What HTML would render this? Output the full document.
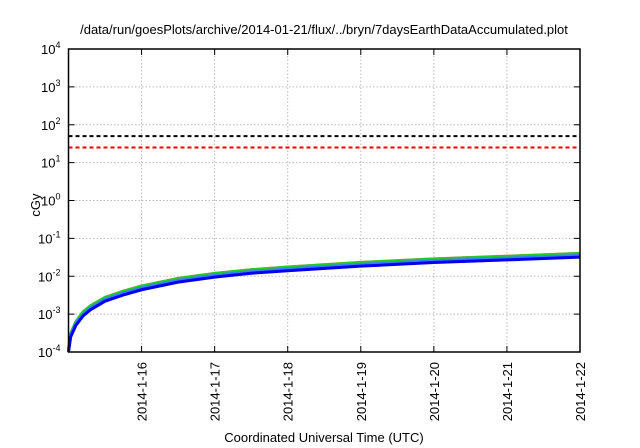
<!DOCTYPE html>
<html><head><meta charset="utf-8"><style>
body{margin:0;background:#fff;}
svg{display:block;font-family:"Liberation Sans",sans-serif;}
</style></head><body>
<svg id="chart" width="640" height="448">
<text x="324" y="34" font-size="13" text-anchor="middle">/data/run/goesPlots/archive/2014-01-21/flux/../bryn/7daysEarthDataAccumulated.plot</text>
<text x="40" y="205" font-size="13" text-anchor="middle" transform="rotate(-90 40 205)">cGy</text>
<text x="324" y="442" font-size="13" text-anchor="middle">Coordinated Universal Time (UTC)</text>
<g id="grid"></g><g id="series"></g><g id="axes"></g>
</svg>
<script>
const xTickLabels=["2014-1-16","2014-1-17","2014-1-18","2014-1-19","2014-1-20","2014-1-21","2014-1-22"];
const xTickDays=[1,2,3,4,5,6,7];
const yTickExps=[-4,-3,-2,-1,0,1,2,3,4];
const days=[0,0.03,0.1,0.2,0.3,0.5,0.75,1,1.5,2,2.5,3,4,5,6,7];
const blue=[1e-4,2.5e-4,5e-4,9e-4,1.3e-3,2.2e-3,3.2e-3,4.4e-3,7e-3,9.5e-3,1.2e-2,1.4e-2,1.85e-2,2.3e-2,2.7e-2,3.2e-2];
const lightBlue=[1.1e-4,2.8e-4,5.6e-4,1.0e-3,1.45e-3,2.45e-3,3.6e-3,4.9e-3,7.8e-3,1.06e-2,1.33e-2,1.56e-2,2.06e-2,2.56e-2,3.0e-2,3.55e-2];
const green=[1.2e-4,3.1e-4,6.3e-4,1.15e-3,1.65e-3,2.75e-3,4.0e-3,5.5e-3,8.7e-3,1.18e-2,1.48e-2,1.74e-2,2.3e-2,2.85e-2,3.35e-2,4.0e-2];
const redS=[1.3e-4,3.3e-4,6.7e-4,1.22e-3,1.75e-3,2.9e-3,4.25e-3,5.8e-3,9.2e-3,1.25e-2,1.56e-2,1.84e-2,2.43e-2,3.0e-2,3.55e-2,4.2e-2];
const thresholds=[50,25];
const thresholdColors=["#000","#e00"];
const L=68.5,R=580,T=49,B=352,ns="http://www.w3.org/2000/svg";
const xs=d=>L+(R-L)*d/7;
const ys=v=>T+(B-T)*(4-Math.log10(v))/8;
function mk(tag,attrs,parent){const e=document.createElementNS(ns,tag);for(const k in attrs)e.setAttribute(k,attrs[k]);document.getElementById(parent).appendChild(e);return e;}
yTickExps.forEach(e=>{const y=ys(Math.pow(10,e));
 if(e>-4&&e<4){const g=mk('line',{x1:L,x2:R,y1:y,y2:y,stroke:'#bbb','stroke-dasharray':'1.5,2','stroke-width':1},'grid');
 
 }
 const t=mk('line',{x1:L,x2:L+6,y1:y,y2:y,stroke:'#000'},'axes');
 
 
 const t2=mk('line',{x1:R-6,x2:R,y1:y,y2:y,stroke:'#000'},'axes');
 
 
 const lab=mk('text',{x:L-8,y:y+5,'font-size':13,'text-anchor':'end'},'axes');
 
 
 lab.innerHTML='10<tspan dy="-6" font-size="9">'+e+'</tspan>';});
xTickDays.forEach((d,i)=>{const x=xs(d);
 if(d<7){const g=mk('line',{x1:x,x2:x,y1:T,y2:B,stroke:'#bbb','stroke-dasharray':'1.5,2'},'grid');
 
 }
 const t=mk('line',{x1:x,x2:x,y1:B-6,y2:B,stroke:'#000'},'axes');
 
 
 const t2=mk('line',{x1:x,x2:x,y1:T,y2:T+6,stroke:'#000'},'axes');
 
 
 const lab=mk('text',{x:x+5,y:B+10,'font-size':13,'text-anchor':'end',transform:`rotate(-90 ${x+5} ${B+10})`},'axes');
 
 
 lab.textContent=xTickLabels[i];});
const fr=mk('rect',{x:L,y:T,width:R-L,height:B-T,fill:'none',stroke:'#000','stroke-width':1.5},'axes');


thresholds.forEach((v,i)=>{const l=mk('line',{x1:L,x2:R,y1:ys(v),y2:ys(v),stroke:thresholdColors[i],'stroke-width':2,'stroke-dasharray':'4,3'},'series');
 
 });
[[redS,'#e86a4a',1.5,'series-red'],[green,'#22cc22',3,'series-green'],[lightBlue,'#3a7cff',3,'series-light-blue'],[blue,'#0000ee',3,'series-blue']].forEach(([arr,c,w,n])=>{
 const p=mk('polyline',{points:days.map((d,i)=>xs(d)+','+ys(arr[i])).join(' '),fill:'none',stroke:c,'stroke-width':w,'stroke-linejoin':'round'},'series');
 
 });
</script>
</body></html>
